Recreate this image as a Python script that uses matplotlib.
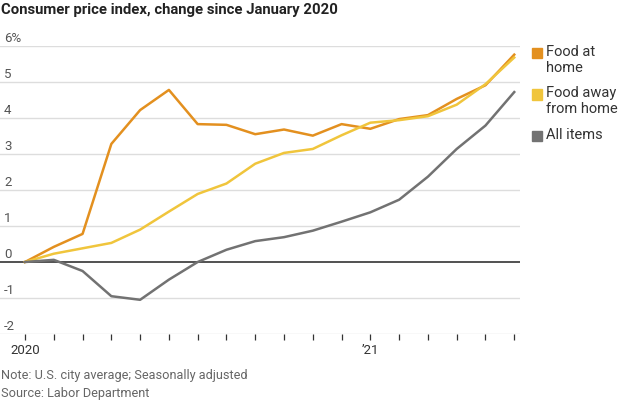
import matplotlib
matplotlib.use("Agg")
import matplotlib.pyplot as plt
import matplotlib.transforms as mtransforms

# Monthly CPI change since January 2020, Jan 2020 - Jun 2021
months = list(range(18))
food_home = [0, 0.42, 0.78, 3.28, 4.22, 4.78, 3.83, 3.81, 3.55, 3.68,
             3.51, 3.83, 3.70, 3.97, 4.08, 4.53, 4.91, 5.76]
food_away = [0, 0.23, 0.38, 0.53, 0.90, 1.40, 1.89, 2.18, 2.73, 3.03,
             3.14, 3.52, 3.87, 3.94, 4.05, 4.37, 4.94, 5.68]
all_items = [0, 0.06, -0.25, -0.95, -1.05, -0.49, 0.0, 0.34, 0.58, 0.69,
             0.87, 1.12, 1.38, 1.73, 2.37, 3.14, 3.79, 4.72]
series = ["Food at\nhome", "Food away\nfrom home", "All items"]
colors = ["#e3901f", "#f0c53c", "#727272"]
yticks = [-2, -1, 0, 1, 2, 3, 4, 5, 6]
ylabels = ["-2", "-1", "0", "1", "2", "3", "4", "5", "6%"]
xlabels = {0: "2020", 12: "\u201921"}

font = ["Liberation Sans Narrow", "Roboto", "DejaVu Sans"]
plt.rcParams["font.family"] = font

fig = plt.figure(figsize=(6.2, 4), dpi=100)
ax = fig.add_axes([0, 0.165, 520 / 620, 0.72])
ax.set_xlim(-0.869, 17.2)
ax.set_ylim(-2, 6)

for v in yticks:
    if v == 0:
        ax.axhline(v, color="#222222", lw=1.1, zorder=3)
    else:
        ax.axhline(v, color="#dddddd", lw=1, zorder=1)

for vals, c in zip([food_home, food_away, all_items], colors):
    ax.plot(months, vals, color=c, lw=1.8, zorder=4)

for s in ax.spines.values():
    s.set_visible(False)
ax.set_yticks([])
ax.set_xticks(months)
ax.set_xticklabels([])
ax.tick_params(axis="x", length=4, width=0.9, color="#333333", pad=2)

trans = mtransforms.blended_transform_factory(ax.transAxes, ax.transData)
for v, lab in zip(yticks, ylabels):
    ax.text(0.008, v + 0.03, lab, transform=trans, ha="left", va="bottom",
            fontsize=9.5, color="#555555")

for m, lab in xlabels.items():
    ax.text(m, -2.46, lab, ha="center", va="center", fontsize=9.5,
            color="#333333")

fig.text(0.002, 0.975, "Consumer price index, change since January 2020",
         ha="left", va="center", fontsize=10.7, fontweight="bold",
         color="#222222")
fig.text(0.002, 0.062, "Note: U.S. city average; Seasonally adjusted",
         ha="left", va="center", fontsize=9.2, color="#666666")
fig.text(0.002, 0.017, "Source: Labor Department",
         ha="left", va="center", fontsize=9.2, color="#666666")

# legend
leg_y = [53, 94.5, 136]
for lab, c, y in zip(series, colors, leg_y):
    fig.patches.append(plt.Rectangle((532 / 620, 1 - (y + 5) / 400),
                                     10 / 620, 10 / 400, color=c,
                                     transform=fig.transFigure, figure=fig))
    fig.text(546 / 620, 1 - (y - 8) / 400, lab, ha="left", va="top",
             fontsize=10.5, color="#333333", linespacing=1.15)

fig.savefig("out.png", dpi=100)
